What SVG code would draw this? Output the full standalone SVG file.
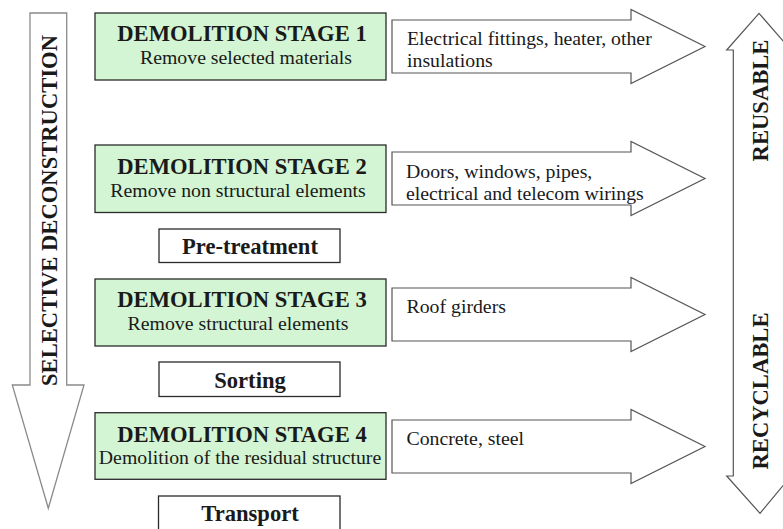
<svg xmlns="http://www.w3.org/2000/svg" width="783" height="529" viewBox="0 0 783 529">
<style>
.stage{fill:#d3f5d3;stroke:#2a2a2a;stroke-width:1.3}
.plain{fill:#fff;stroke:#2a2a2a;stroke-width:1.3}
text{font-family:'Liberation Serif','Times New Roman','DejaVu Serif',serif;fill:#1a1a1a}
.b{font-weight:bold;font-size:22.6px}
.r{font-size:19.8px}
.arr{fill:#fff;stroke:#555;stroke-width:1.2}
.big{fill:#fff;stroke:#8a8a8a;stroke-width:1.3}
</style>
<defs>
<path id="rarrow" d="M392,-26.5 H631 V-37 L705,0 L631,37 V26.5 H392 Z"/>
</defs>
<rect width="783" height="529" fill="#fff"/>
<g id="selective-deconstruction">
<path class="big" d="M30,13 H66.7 V385 H84 L48.3,508.3 L12.3,385 H30 Z"/>
<text class="b" transform="translate(57,210.5) rotate(-90)" text-anchor="middle">SELECTIVE DECONSTRUCTION</text>
</g>
<g id="reusable-recyclable">
<path class="arr" d="M733.3,476 V50 H726.7 L759,13.3 L791,50 H785 V476 H791 L760,513.3 L726.7,476 Z"/>
<text class="b" transform="translate(768,100.5) rotate(-90)" text-anchor="middle">REUSABLE</text>
<text class="b" transform="translate(768,391) rotate(-90)" text-anchor="middle">RECYCLABLE</text>
</g>
<g id="stage1">
<rect class="stage" x="95" y="13" width="291" height="67"/>
<text class="b" x="242" y="41" text-anchor="middle">DEMOLITION STAGE 1</text>
<text class="r" x="246" y="63.5" text-anchor="middle">Remove selected materials</text>
</g>
<g id="stage2">
<rect class="stage" x="95" y="145" width="291" height="67.5"/>
<text class="b" x="242" y="174" text-anchor="middle">DEMOLITION STAGE 2</text>
<text class="r" x="238" y="196.5" text-anchor="middle">Remove non structural elements</text>
</g>
<g id="pretreatment">
<rect class="plain" x="159" y="229" width="181" height="33.5"/>
<text class="b" x="250" y="254" text-anchor="middle">Pre-treatment</text>
</g>
<g id="stage3">
<rect class="stage" x="95" y="279" width="291" height="67"/>
<text class="b" x="242" y="306.5" text-anchor="middle">DEMOLITION STAGE 3</text>
<text class="r" x="238" y="330" text-anchor="middle">Remove structural elements</text>
</g>
<g id="sorting">
<rect class="plain" x="159" y="362" width="181" height="34.5"/>
<text class="b" x="250" y="388" text-anchor="middle">Sorting</text>
</g>
<g id="stage4">
<rect class="stage" x="95" y="412.7" width="291" height="66.6"/>
<text class="b" x="242" y="441.5" text-anchor="middle">DEMOLITION STAGE 4</text>
<text class="r" x="240" y="464" text-anchor="middle">Demolition of the residual structure</text>
</g>
<g id="transport">
<rect class="plain" x="158.5" y="496" width="181.5" height="40"/>
<text class="b" x="250" y="520.5" text-anchor="middle">Transport</text>
</g>
<g id="connectors">
<g id="out1">
<use href="#rarrow" class="arr" transform="translate(0,46.5)"/>
<text class="r" x="407" y="45">Electrical fittings, heater, other</text>
<text class="r" x="407" y="66.5">insulations</text>
</g>
<g id="out2">
<use href="#rarrow" class="arr" transform="translate(0,178.5)"/>
<text class="r" x="406" y="178.3">Doors, windows, pipes,</text>
<text class="r" x="406" y="200">electrical and telecom wirings</text>
</g>
<g id="out3">
<use href="#rarrow" class="arr" transform="translate(0,314.5)"/>
<text class="r" x="406.5" y="313.3">Roof girders</text>
</g>
<g id="out4">
<use href="#rarrow" class="arr" transform="translate(0,446.5)"/>
<text class="r" x="406.5" y="445">Concrete, steel</text>
</g>
</g>
</svg>
